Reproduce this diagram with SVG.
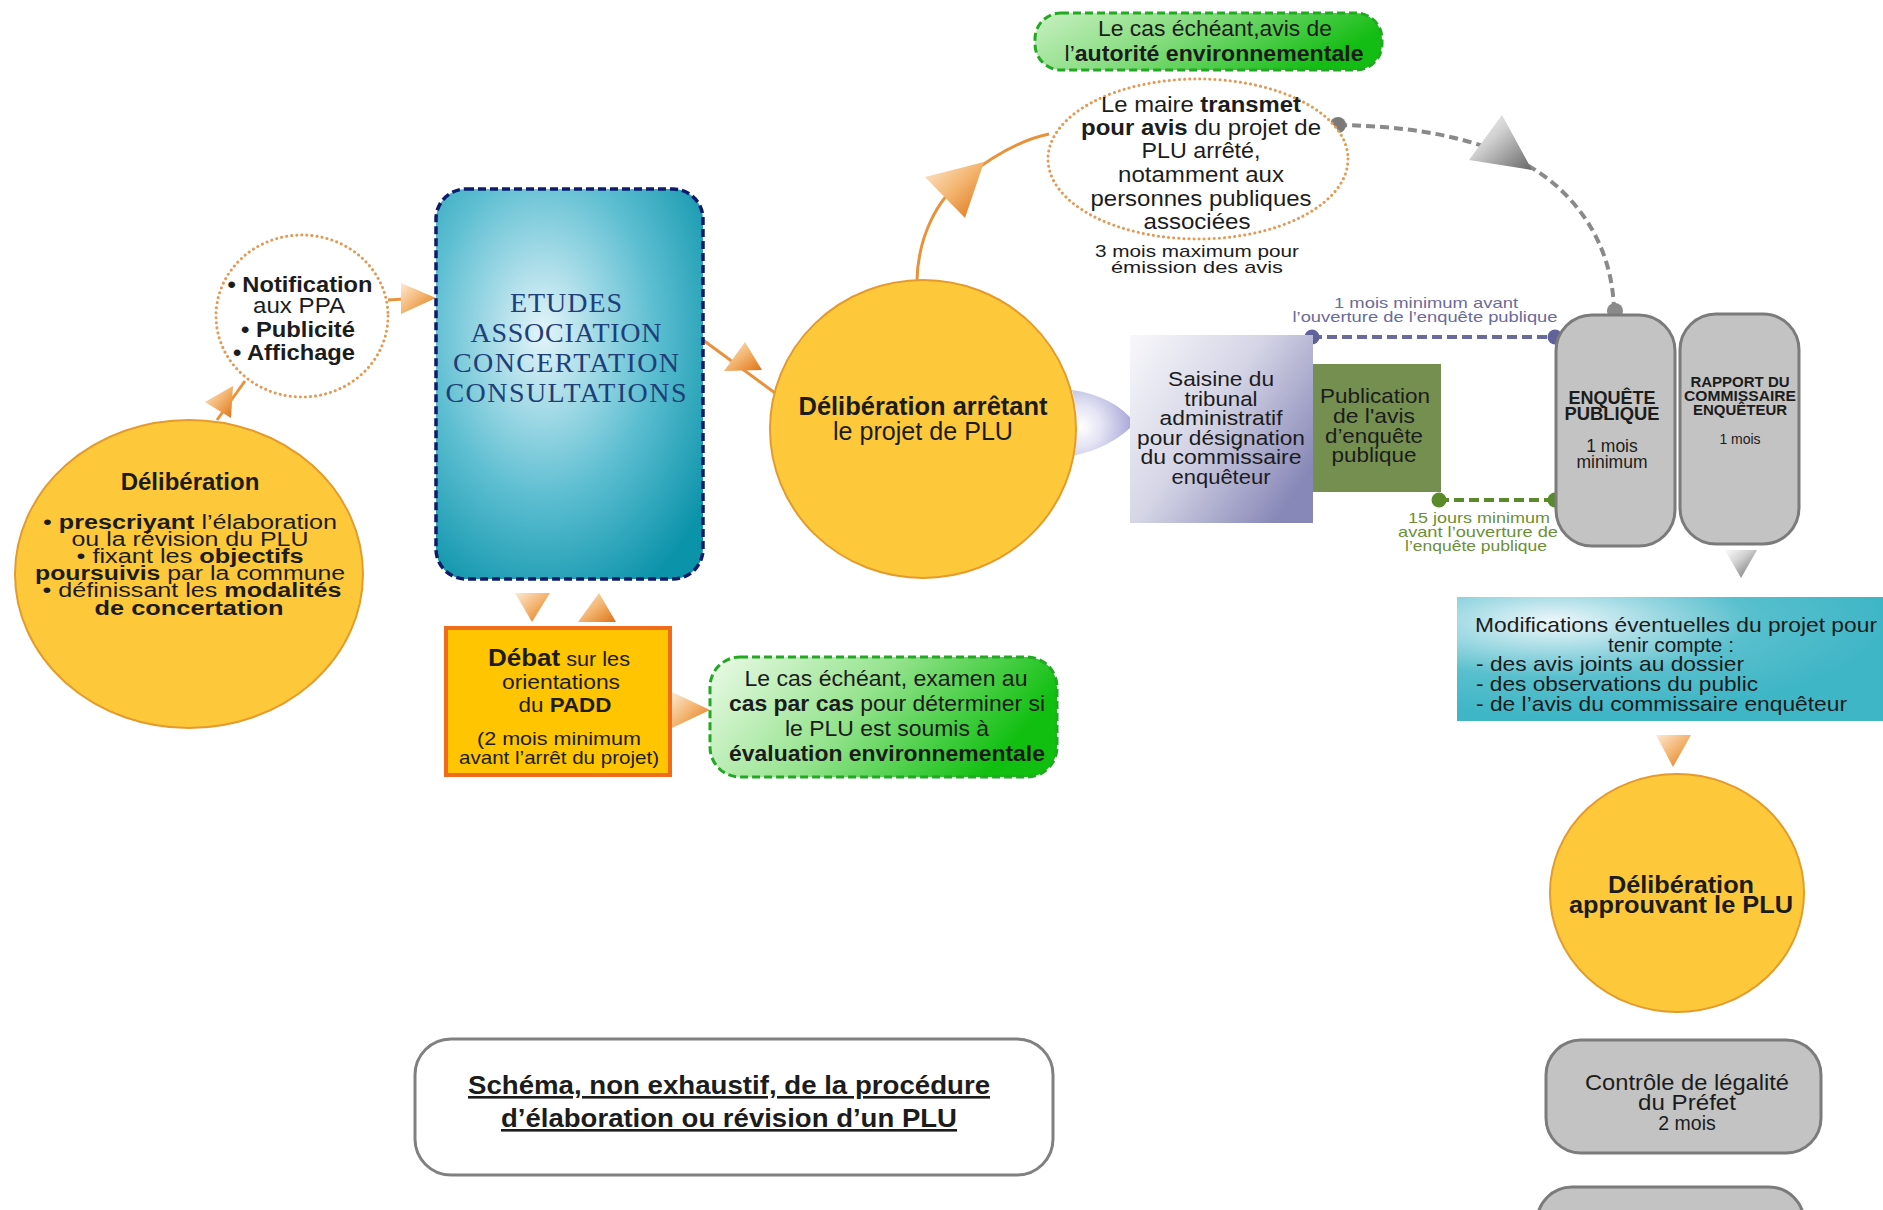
<svg xmlns="http://www.w3.org/2000/svg" width="1883" height="1210" viewBox="0 0 1883 1210">
<defs>
<linearGradient id="gO" x1="0" y1="0" x2="1" y2="1"><stop offset="0" stop-color="#fde9d2"/><stop offset="0.5" stop-color="#f3b46e"/><stop offset="1" stop-color="#dc7216"/></linearGradient>
<linearGradient id="gG" x1="0" y1="0" x2="1" y2="1"><stop offset="0" stop-color="#fbfbfb"/><stop offset="0.4" stop-color="#d0d0d0"/><stop offset="1" stop-color="#666"/></linearGradient>
<radialGradient id="gE" cx="0.4" cy="0.37" r="0.75"><stop offset="0" stop-color="#e4f4fa"/><stop offset="0.55" stop-color="#5fbfd2"/><stop offset="1" stop-color="#0b93aa"/></radialGradient>
<linearGradient id="gGr" x1="0" y1="0" x2="1" y2="0.3"><stop offset="0" stop-color="#ecfae8"/><stop offset="0.5" stop-color="#95e38e"/><stop offset="1" stop-color="#10bf10"/></linearGradient>
<linearGradient id="gGt" x1="0" y1="0" x2="1" y2="0.3"><stop offset="0" stop-color="#c9f0c2"/><stop offset="0.5" stop-color="#7fda78"/><stop offset="1" stop-color="#14bd14"/></linearGradient>
<linearGradient id="gS" x1="0" y1="0" x2="1" y2="0.7"><stop offset="0" stop-color="#f8f8fb"/><stop offset="0.5" stop-color="#d4d4e6"/><stop offset="1" stop-color="#8888b8"/></linearGradient>
<radialGradient id="gM" cx="0.22" cy="0.2" r="0.75"><stop offset="0" stop-color="#eef7fb"/><stop offset="0.6" stop-color="#58bfcd"/><stop offset="1" stop-color="#3fb6c6"/></radialGradient>
<radialGradient id="gL" cx="0.15" cy="0.55" r="0.9"><stop offset="0" stop-color="#ffffff"/><stop offset="0.35" stop-color="#e4e4f4"/><stop offset="1" stop-color="#9c9cd2"/></radialGradient>
</defs>
<style>
text{font-family:"Liberation Sans",Arial,sans-serif;fill:#1c1c1c}
.m{text-anchor:middle}
.b{font-weight:bold}
.ser{font-family:"Liberation Serif","Times New Roman",serif;fill:#1f3f78}
.yc{fill:#fdc93b;stroke:#e59a2c;stroke-width:2}
.dotc{fill:#fff;stroke:#e39a55;stroke-width:3;stroke-dasharray:0.1 5;stroke-linecap:round}
.gb{fill:#c3c3c3;stroke:#7b7b7b;stroke-width:3}
.ar{fill:url(#gO)}
.ag{fill:url(#gG)}
.ln{fill:none;stroke:#e8923c;stroke-width:3}
.grn{fill:url(#gGr);stroke:#22a822;stroke-width:3;stroke-dasharray:8 4}
.pur{fill:#6a6a9c}
.olv{fill:#6b8f35}
</style>

<g id="connectors">
  <path class="ln" d="M217,420 L245,381"/>
  <path class="ln" d="M388,300 L404,299"/>
  <path class="ln" d="M703,340 L775,393"/>
  <path class="ln" d="M917,280 C918,240 935,200 965,178 C990,158 1020,140 1049,134"/>
  <path d="M1338,125 C1400,126 1450,133 1500,152 C1560,175 1612,230 1614,310" fill="none" stroke="#8a8a8a" stroke-width="4" stroke-dasharray="9 5"/>
  <circle cx="1338" cy="125" r="8" fill="#7a7a7a"/>
  <circle cx="1615" cy="311" r="8" fill="#8a8a8a"/>
  <path d="M1312,337 L1555,337" stroke="#6a6a9c" stroke-width="4" stroke-dasharray="10 5"/>
  <circle cx="1312" cy="337" r="7.5" fill="#62629a"/>
  <circle cx="1555" cy="337" r="7.5" fill="#62629a"/>
  <path d="M1439,500 L1555,500" stroke="#5a8a2a" stroke-width="4" stroke-dasharray="10 5"/>
  <circle cx="1439" cy="500" r="7.5" fill="#5a8a2a"/>
  <circle cx="1555" cy="500" r="7.5" fill="#5a8a2a"/>
  <polygon class="ar" points="233,386 205,402 231,418"/>
  <polygon class="ar" points="401,283 436,298 401,314"/>
  <polygon class="ar" points="724,371 745,342 762,370"/>
  <polygon class="ar" points="925,177 984,162 965,218"/>
  <polygon class="ar" points="515,593 550,593 532,622"/>
  <polygon class="ar" points="578,622 599,593 616,622"/>
  <polygon class="ar" points="672,692 710,710 672,728"/>
  <polygon class="ag" points="1502,115 1469,160 1532,170"/>
  <polygon class="ag" points="1725,550 1757,550 1741,578"/>
  <polygon class="ar" points="1656,735 1691,735 1673,767"/>
  <path d="M1072,390 Q1114,396 1135,423 Q1112,448 1072,456 Q1082,423 1072,390 Z" fill="url(#gL)"/>
</g>

<g id="deliberation-prescription">
  <ellipse class="yc" cx="189" cy="574" rx="174" ry="154"/>
  <text class="m b" x="190" y="490" font-size="24">Délibération</text>
  <text class="m" x="190" y="529" font-size="19.5" textLength="294" lengthAdjust="spacingAndGlyphs">• <tspan class="b">prescriyant</tspan> l’élaboration</text>
  <text class="m" x="190" y="546" font-size="19.5" textLength="237" lengthAdjust="spacingAndGlyphs">ou la révision du PLU</text>
  <text class="m" x="190" y="563" font-size="19.5" textLength="227" lengthAdjust="spacingAndGlyphs">• fixant les <tspan class="b">objectifs</tspan></text>
  <text class="m" x="190" y="580" font-size="19.5" textLength="310" lengthAdjust="spacingAndGlyphs"><tspan class="b">poursuivis</tspan> par la commune</text>
  <text class="m" x="192" y="597" font-size="19.5" textLength="299" lengthAdjust="spacingAndGlyphs">• définissant les <tspan class="b">modalités</tspan></text>
  <text class="m b" x="189" y="615" font-size="19.5" textLength="189" lengthAdjust="spacingAndGlyphs">de concertation</text>
</g>

<g id="notification">
  <ellipse class="dotc" cx="302" cy="316" rx="86" ry="81"/>
  <text class="m b" x="300" y="292" font-size="22" textLength="145" lengthAdjust="spacingAndGlyphs">• Notification</text>
  <text class="m" x="299" y="313" font-size="22" textLength="92" lengthAdjust="spacingAndGlyphs">aux PPA</text>
  <text class="m b" x="298" y="337" font-size="22" textLength="114" lengthAdjust="spacingAndGlyphs">• Publicité</text>
  <text class="m b" x="294" y="360" font-size="22" textLength="122" lengthAdjust="spacingAndGlyphs">• Affichage</text>
</g>

<g id="etudes">
  <rect x="436" y="189" width="267" height="390" rx="30" fill="url(#gE)" stroke="#0d1b6b" stroke-width="3.5" stroke-dasharray="8 4"/>
  <text class="m ser" x="566" y="312" font-size="28" textLength="112">ETUDES</text>
  <text class="m ser" x="566" y="342" font-size="28" textLength="191">ASSOCIATION</text>
  <text class="m ser" x="566" y="372" font-size="28" textLength="226">CONCERTATION</text>
  <text class="m ser" x="566" y="402" font-size="28" textLength="241">CONSULTATIONS</text>
</g>

<g id="debat">
  <rect x="446" y="628" width="224" height="147" fill="#ffc600" stroke="#ee6c1c" stroke-width="4"/>
  <text class="m" x="559" y="666" font-size="20" textLength="142" lengthAdjust="spacingAndGlyphs"><tspan class="b" font-size="24">Débat</tspan> sur les</text>
  <text class="m" x="561" y="689" font-size="20" textLength="118" lengthAdjust="spacingAndGlyphs">orientations</text>
  <text class="m" x="565" y="712" font-size="20" textLength="93" lengthAdjust="spacingAndGlyphs">du <tspan class="b">PADD</tspan></text>
  <text class="m" x="559" y="745" font-size="19" textLength="164" lengthAdjust="spacingAndGlyphs">(2 mois minimum</text>
  <text class="m" x="559" y="764" font-size="19" textLength="200" lengthAdjust="spacingAndGlyphs">avant l’arrêt du projet)</text>
</g>

<g id="examen">
  <rect class="grn" x="710" y="657" width="347" height="120" rx="30"/>
  <text class="m" x="886" y="686" font-size="21.5" textLength="283" lengthAdjust="spacingAndGlyphs">Le cas échéant, examen au</text>
  <text class="m" x="887" y="711" font-size="21.5" textLength="316" lengthAdjust="spacingAndGlyphs"><tspan class="b">cas par cas</tspan> pour déterminer si</text>
  <text class="m" x="887" y="736" font-size="21.5" textLength="204" lengthAdjust="spacingAndGlyphs">le PLU est soumis à</text>
  <text class="m b" x="887" y="761" font-size="21.5" textLength="316" lengthAdjust="spacingAndGlyphs">évaluation environnementale</text>
</g>

<g id="deliberation-arret">
  <ellipse class="yc" cx="923" cy="429" rx="153" ry="149"/>
  <text class="m b" x="923" y="415" font-size="25" textLength="249" lengthAdjust="spacingAndGlyphs">Délibération arrêtant</text>
  <text class="m" x="923" y="440" font-size="25" textLength="180" lengthAdjust="spacingAndGlyphs">le projet de PLU</text>
</g>

<g id="autorite-env">
  <rect x="1035" y="13" width="347" height="57" rx="26" fill="url(#gGt)" stroke="#22a822" stroke-width="3" stroke-dasharray="8 4"/>
  <text class="m" x="1215" y="36" font-size="22" textLength="234" lengthAdjust="spacingAndGlyphs">Le cas échéant,avis de</text>
  <text class="m" x="1214" y="61" font-size="22" textLength="299" lengthAdjust="spacingAndGlyphs">l’<tspan class="b">autorité environnementale</tspan></text>
</g>

<g id="transmission">
  <ellipse class="dotc" cx="1198" cy="159" rx="150" ry="80"/>
  <text class="m" x="1201" y="112" font-size="22" textLength="200" lengthAdjust="spacingAndGlyphs">Le maire <tspan class="b">transmet</tspan></text>
  <text class="m" x="1201" y="135" font-size="22" textLength="240" lengthAdjust="spacingAndGlyphs"><tspan class="b">pour avis</tspan> du projet de</text>
  <text class="m" x="1201" y="158" font-size="22" textLength="119" lengthAdjust="spacingAndGlyphs">PLU arrêté,</text>
  <text class="m" x="1201" y="182" font-size="22" textLength="166" lengthAdjust="spacingAndGlyphs">notamment aux</text>
  <text class="m" x="1201" y="206" font-size="22" textLength="221" lengthAdjust="spacingAndGlyphs">personnes publiques</text>
  <text class="m" x="1197" y="229" font-size="22" textLength="107" lengthAdjust="spacingAndGlyphs">associées</text>
  <text class="m" x="1197" y="257" font-size="17" textLength="204" lengthAdjust="spacingAndGlyphs">3 mois maximum pour</text>
  <text class="m" x="1197" y="273" font-size="17" textLength="172" lengthAdjust="spacingAndGlyphs">émission des avis</text>
</g>

<g id="delais-labels">
  <text class="m pur" x="1426" y="308" font-size="15" textLength="184" lengthAdjust="spacingAndGlyphs">1 mois minimum avant</text>
  <text class="m pur" x="1425" y="322" font-size="15" textLength="265" lengthAdjust="spacingAndGlyphs">l’ouverture de l’enquête publique</text>
  <text class="m olv" x="1479" y="523" font-size="15" textLength="142" lengthAdjust="spacingAndGlyphs">15 jours minimum</text>
  <text class="m olv" x="1478" y="537" font-size="15" textLength="160" lengthAdjust="spacingAndGlyphs">avant l’ouverture de</text>
  <text class="m olv" x="1476" y="551" font-size="15" textLength="142" lengthAdjust="spacingAndGlyphs">l’enquête publique</text>
</g>

<g id="saisine">
  <rect x="1130" y="335" width="183" height="188" fill="url(#gS)"/>
  <text class="m" x="1221" y="386" font-size="20.5" textLength="106" lengthAdjust="spacingAndGlyphs">Saisine du</text>
  <text class="m" x="1221" y="406" font-size="20.5" textLength="73" lengthAdjust="spacingAndGlyphs">tribunal</text>
  <text class="m" x="1221" y="425" font-size="20.5" textLength="123" lengthAdjust="spacingAndGlyphs">administratif</text>
  <text class="m" x="1221" y="445" font-size="20.5" textLength="168" lengthAdjust="spacingAndGlyphs">pour désignation</text>
  <text class="m" x="1221" y="464" font-size="20.5" textLength="161" lengthAdjust="spacingAndGlyphs">du commissaire</text>
  <text class="m" x="1221" y="484" font-size="20.5" textLength="99" lengthAdjust="spacingAndGlyphs">enquêteur</text>
</g>

<g id="publication">
  <rect x="1313" y="364" width="128" height="128" fill="#748f4f"/>
  <text class="m" x="1375" y="403" font-size="21" textLength="110" lengthAdjust="spacingAndGlyphs">Publication</text>
  <text class="m" x="1374" y="423" font-size="21" textLength="82" lengthAdjust="spacingAndGlyphs">de l'avis</text>
  <text class="m" x="1374" y="443" font-size="21" textLength="98" lengthAdjust="spacingAndGlyphs">d’enquête</text>
  <text class="m" x="1374" y="462" font-size="21" textLength="85" lengthAdjust="spacingAndGlyphs">publique</text>
</g>

<g id="enquete">
  <rect class="gb" x="1556" y="315" width="119" height="231" rx="36"/>
  <text class="m b" x="1612" y="404" font-size="18">ENQUÊTE</text>
  <text class="m b" x="1612" y="420" font-size="18" textLength="95" lengthAdjust="spacingAndGlyphs">PUBLIQUE</text>
  <text class="m" x="1612" y="452" font-size="17.5">1 mois</text>
  <text class="m" x="1612" y="468" font-size="17.5">minimum</text>
</g>

<g id="rapport">
  <rect class="gb" x="1680" y="314" width="119" height="230" rx="36"/>
  <text class="m b" x="1740" y="387" font-size="15">RAPPORT DU</text>
  <text class="m b" x="1740" y="401" font-size="15" textLength="112" lengthAdjust="spacingAndGlyphs">COMMISSAIRE</text>
  <text class="m b" x="1740" y="415" font-size="15">ENQUÊTEUR</text>
  <text class="m" x="1740" y="444" font-size="14">1 mois</text>
</g>

<g id="modifications">
  <rect x="1457" y="597" width="440" height="124" fill="url(#gM)"/>
  <text class="m" x="1676" y="632" font-size="21" textLength="402" lengthAdjust="spacingAndGlyphs">Modifications éventuelles du projet pour</text>
  <text class="m" x="1671" y="652" font-size="21" textLength="126" lengthAdjust="spacingAndGlyphs">tenir compte :</text>
  <text x="1476" y="671" font-size="21" textLength="268" lengthAdjust="spacingAndGlyphs">- des avis joints au dossier</text>
  <text x="1476" y="691" font-size="21" textLength="282" lengthAdjust="spacingAndGlyphs">- des observations du public</text>
  <text x="1476" y="711" font-size="21" textLength="371" lengthAdjust="spacingAndGlyphs">- de l’avis du commissaire enquêteur</text>
</g>

<g id="deliberation-approbation">
  <ellipse class="yc" cx="1677" cy="893" rx="127" ry="119"/>
  <text class="m b" x="1681" y="893" font-size="23.5" textLength="146" lengthAdjust="spacingAndGlyphs">Délibération</text>
  <text class="m b" x="1681" y="913" font-size="23.5" textLength="224" lengthAdjust="spacingAndGlyphs">approuvant le PLU</text>
</g>

<g id="controle">
  <rect class="gb" x="1546" y="1040" width="275" height="113" rx="35"/>
  <text class="m" x="1687" y="1090" font-size="21.5" textLength="204" lengthAdjust="spacingAndGlyphs">Contrôle de légalité</text>
  <text class="m" x="1687" y="1110" font-size="21.5" textLength="98" lengthAdjust="spacingAndGlyphs">du Préfet</text>
  <text class="m" x="1687" y="1130" font-size="19.5" fill="#555">2 mois</text>
</g>

<g id="suite">
  <rect class="gb" x="1537" y="1187" width="267" height="80" rx="35"/>
</g>

<g id="titre">
  <rect x="415" y="1039" width="638" height="136" rx="36" fill="#fff" stroke="#808080" stroke-width="3"/>
  <text class="m b" x="729" y="1094" font-size="26" fill="#333" text-decoration="underline" textLength="522" lengthAdjust="spacingAndGlyphs">Schéma, non exhaustif, de la procédure</text>
  <text class="m b" x="729" y="1127" font-size="26" fill="#333" text-decoration="underline" textLength="456" lengthAdjust="spacingAndGlyphs">d’élaboration ou révision d’un PLU</text>
</g>
</svg>
